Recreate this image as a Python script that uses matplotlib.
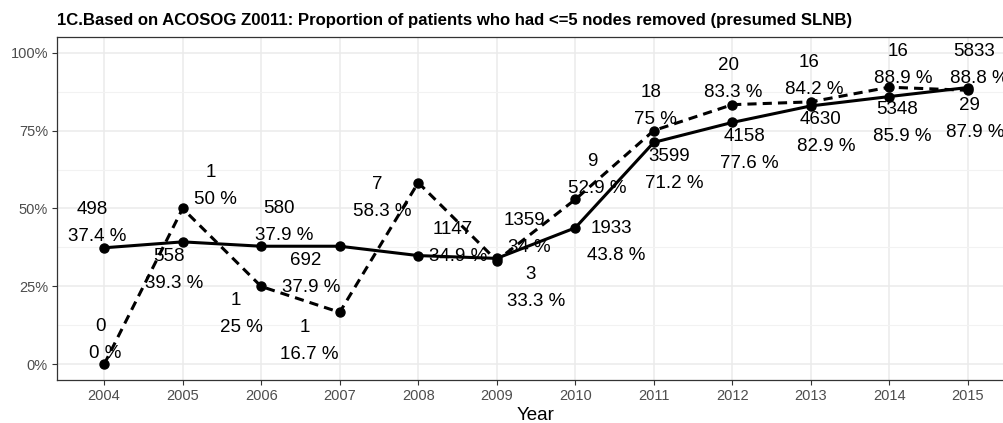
import matplotlib
matplotlib.use("Agg")
import matplotlib.pyplot as plt
import matplotlib.ticker as mticker

plt.rcParams['font.family'] = ['Liberation Sans', 'DejaVu Sans']

# data
years = [2004, 2005, 2006, 2007, 2008, 2009, 2010, 2011, 2012, 2013, 2014, 2015]
all_pct = [37.4, 39.3, 37.9, 37.9, 34.9, 34.0, 43.8, 71.2, 77.6, 82.9, 85.9, 88.8]
all_n = [498, 558, 580, 692, 1147, 1359, 1933, 3599, 4158, 4630, 5348, 5833]
z11_pct = [0.0, 50.0, 25.0, 16.7, 58.3, 33.3, 52.9, 75.0, 83.3, 84.2, 88.9, 87.9]
z11_n = [0, 1, 1, 1, 7, 3, 9, 18, 20, 16, 16, 29]

# label offsets in pixels (dx, dy-down) for the count label, jittered like the original
all_off = [(-12, -38), (-14, 15), (18, -38), (-34, 14), (35, -26), (28, -38),
           (36, 1), (15, 14), (12, 14), (10, 14), (8, 13), (6, -36)]
z11_off = [(-4, -38), (28, -36), (-25, 14), (-35, 15), (-41, 2), (34, 14),
           (17, -38), (-3, -38), (-4, -39), (-2, -39), (9, -36), (2, 15)]
PCT_SHIFT = (5, 27)


def fmt_pct(v):
    return f"{round(v, 1):g} %"


fig = plt.figure(figsize=(10.04, 4.23), dpi=100)
ax = fig.add_axes([57 / 1004, 43 / 423, 958 / 1004, 343 / 423])

for pct, n, off, ls in [(all_pct, all_n, all_off, '-'), (z11_pct, z11_n, z11_off, '--')]:
    vals = [p / 100 for p in pct]
    line, = ax.plot(years, vals, color='black', lw=2.2, ls=ls, marker='o',
                    markersize=6.5, zorder=3, clip_on=False)
    if ls == '--':
        line.set_dashes((3.0, 2.0))
    for x, y, c, p, (dx, dy) in zip(years, vals, n, pct, off):
        ax.annotate(str(c), (x, y), xytext=(dx, -dy), textcoords='offset pixels',
                    ha='center', va='center', fontsize=13.5, color='black', zorder=4)
        ax.annotate(fmt_pct(p), (x, y), xytext=(dx + PCT_SHIFT[0], -dy - PCT_SHIFT[1]),
                    textcoords='offset pixels', ha='center', va='center',
                    fontsize=13.5, color='black', zorder=4)

ax.set_xlim(2003.4, 2015.6)
ax.set_ylim(-0.05, 1.05)
ax.set_xticks(years)
ax.set_yticks([0, 0.25, 0.5, 0.75, 1.0])
ax.yaxis.set_minor_locator(mticker.FixedLocator([0.125, 0.375, 0.625, 0.875]))
ax.yaxis.set_major_formatter(mticker.FuncFormatter(lambda v, _: f"{v * 100:.0f}%"))

ax.grid(which='major', color='#EBEBEB', lw=1.1, zorder=0)
ax.grid(which='minor', axis='y', color='#F2F2F2', lw=0.8, zorder=0)
ax.set_axisbelow(True)
for s in ax.spines.values():
    s.set_color('#333333')
    s.set_linewidth(0.9)
ax.tick_params(which='major', length=3.5, width=0.8, color='#333333',
               labelcolor='#4D4D4D', labelsize=10.5, pad=3)
ax.tick_params(which='minor', length=0)

ax.set_xlabel('Year', fontsize=13.5, labelpad=3)
fig.text(57 / 1004, 1 - 20 / 423,
         '1C.Based on ACOSOG Z0011: Proportion of patients who had <=5 nodes removed (presumed SLNB)',
         ha='left', va='center', fontsize=12.1, fontweight='bold')

fig.savefig('out.png', dpi=100)
